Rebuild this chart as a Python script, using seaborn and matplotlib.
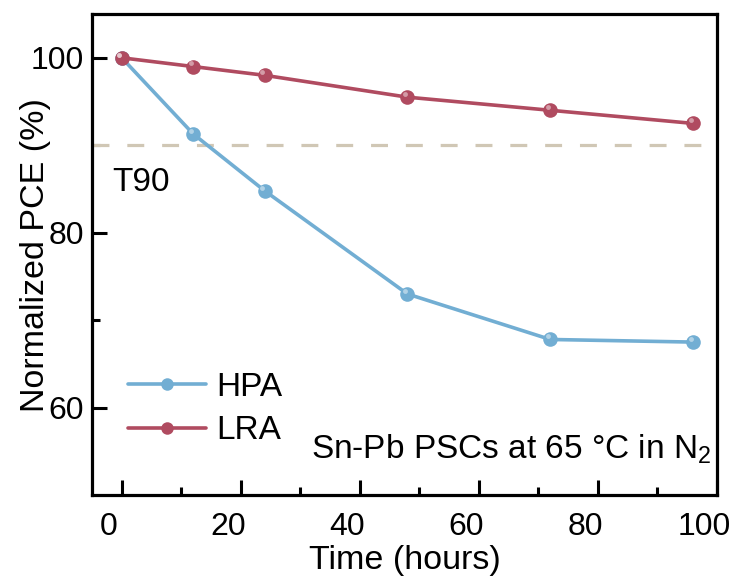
import matplotlib
matplotlib.use('Agg')
import matplotlib.pyplot as plt
import matplotlib.transforms as mtransforms
import numpy as np
import pandas as pd
import seaborn as sns

# data
time_h = [0, 12, 24, 48, 72, 96]
hpa = [100.0, 91.3, 84.8, 73.0, 67.8, 67.5]
lra = [100.0, 99.0, 98.0, 95.5, 94.0, 92.5]
series_names = ['HPA', 'LRA']
t90_level = 90

colors = {'HPA': '#72AED3', 'LRA': '#B04B60'}
dash_color = '#D0C7B5'

df = pd.DataFrame({'Time': time_h * 2,
                   'PCE': hpa + lra,
                   'Sample': [series_names[0]] * len(time_h) + [series_names[1]] * len(time_h)})

sns.set_theme(style='ticks', rc={'text.color': 'black', 'axes.labelcolor': 'black',
                                 'xtick.color': 'black', 'ytick.color': 'black'})
plt.rcParams['font.family'] = ['Liberation Sans', 'DejaVu Sans']
plt.rcParams['mathtext.fontset'] = 'custom'
plt.rcParams['mathtext.rm'] = 'Liberation Sans'

fig = plt.figure(figsize=(7.37, 5.86), dpi=100)
ax = fig.add_axes([0.1248, 0.155, 0.848, 0.821])

ax.axhline(t90_level, color=dash_color, lw=2.3, dashes=(5.3, 5.6), zorder=1)

sns.lineplot(data=df, x='Time', y='PCE', hue='Sample', palette=colors,
             marker='o', markersize=10.5, markeredgewidth=0, linewidth=2.6,
             ax=ax, zorder=3, legend=False)

# small highlight on markers (glossy ball look)
for name in series_names:
    sub = df[df['Sample'] == name]
    ax.plot(sub['Time'] - 0.4, sub['PCE'] + 0.35, 'o', color='white', alpha=0.45,
            markersize=3.5, markeredgewidth=0, zorder=4)

ax.set_xlim(-5, 100)
ax.set_ylim(50, 105)
ax.set_xticks([0, 20, 40, 60, 80, 100])
ax.set_xticks([10, 30, 50, 70, 90], minor=True)
ax.set_yticks([60, 80, 100])
ax.set_yticks([70, 90], minor=True)

ax.set_xlabel('Time (hours)', fontsize=24.5, labelpad=2.5)
ax.set_ylabel('Normalized PCE (%)', fontsize=24.5)
ax.yaxis.set_label_coords(-0.066, 0.5)

ax.tick_params(which='major', direction='in', length=11, width=2.2,
               labelsize=23, top=False, right=False, colors='black')
ax.tick_params(axis='x', which='major', pad=12)
ax.tick_params(axis='y', which='major', pad=6)
ax.tick_params(which='minor', direction='in', length=6, width=2.2,
               top=False, right=False, colors='black')
for sp in ax.spines.values():
    sp.set_linewidth(2.3)
    sp.set_color('black')

# x tick labels sit a bit left of their ticks in the original
offset = mtransforms.ScaledTranslation(-13 / 100, 0, fig.dpi_scale_trans)
for lab in ax.get_xticklabels():
    lab.set_transform(lab.get_transform() + offset)

ax.text(-1.6, 85.8, 'T90', fontsize=24, ha='left', va='center', color='black')
ax.text(99.0, 54.2, 'Sn-Pb PSCs at 65 °C in N$_2$', fontsize=24, ha='right',
        va='baseline', color='black')

handles = [plt.Line2D([], [], color=colors[n], lw=2.6, marker='o', markersize=9,
                      markeredgewidth=0) for n in series_names]
ax.legend(handles, series_names, loc='upper left', bbox_to_anchor=(0.057, 0.256),
          frameon=False, fontsize=24, handlelength=2.35, handletextpad=0.3,
          labelspacing=0.37, borderaxespad=0, borderpad=0)

fig.savefig('out.png', dpi=100)
